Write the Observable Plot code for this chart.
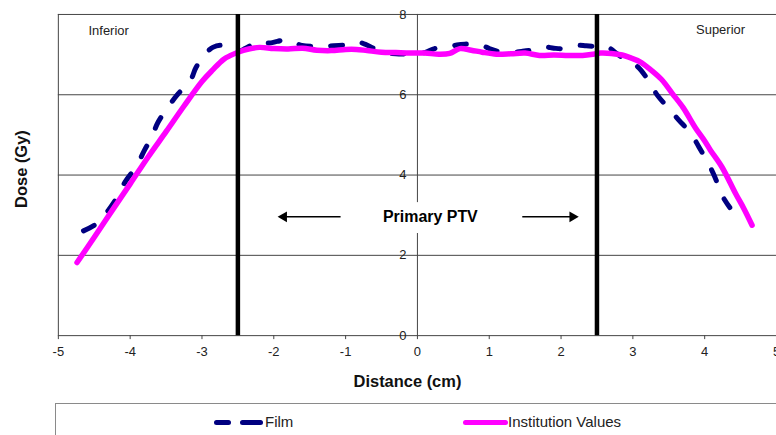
<!DOCTYPE html>
<html>
<head>
<meta charset="utf-8">
<script src="https://cdn.jsdelivr.net/npm/d3@7"></script>
<script src="https://cdn.jsdelivr.net/npm/@observablehq/plot@0.6"></script>
<style>
  body { margin: 0; background: #fff; overflow: hidden; font-family: "Liberation Sans", Arial, sans-serif; }
  #wrap { position: relative; width: 776px; height: 435px; overflow: hidden; background: #fff; }
  #chart { position: absolute; left: 0; top: 0; }
  #legend { position: absolute; left: 55px; top: 403px; width: 760px; height: 45px; border: 1px solid #8a8a8a; box-sizing: border-box; background: #fff; }
  .sw { position: absolute; height: 5px; border-radius: 3px; }
  .lt { position: absolute; font-size: 15px; line-height: 18px; color: #222; white-space: nowrap; }
</style>
</head>
<body>
<div id="wrap">
  <div id="chart"></div>
  <div id="legend">
    <span class="sw" style="left:158px;top:16px;width:17px;background:#000080"></span>
    <span class="sw" style="left:184px;top:16px;width:23px;background:#000080"></span>
    <span class="lt" style="left:209px;top:9px;">Film</span>
    <span class="sw" style="left:407px;top:16px;width:45px;background:#ff00ff"></span>
    <span class="lt" style="left:452px;top:9px;">Institution Values</span>
  </div>
</div>
<script>
// ---- data ----
const xTicks = [-5, -4, -3, -2, -1, 0, 1, 2, 3, 4, 5];
const yTicks = [0, 2, 4, 6, 8];
const gridLevels = [2, 4, 6, 8];
const ptvBounds = [-2.5, 2.5];

const filmX = [-4.65, -4.46, -4.30, -4.17, -4.07, -3.92, -3.80, -3.70, -3.61, -3.47, -3.33, -3.17, -3.08, -2.94, -2.85, -2.72, -2.60, -2.50, -2.40, -2.28, -2.17, -2.07, -1.95, -1.82, -1.61, -1.38, -1.17, -0.92, -0.82, -0.73, -0.50, -0.30, -0.10, 0.10, 0.24, 0.43, 0.55, 0.66, 0.87, 1.00, 1.10, 1.31, 1.45, 1.58, 1.77, 1.90, 2.02, 2.21, 2.35, 2.46, 2.58, 2.67, 2.78, 2.90, 3.06, 3.23, 3.34, 3.50, 3.64, 3.81, 3.92, 4.05, 4.14, 4.24, 4.35];
const filmY = [2.61, 2.80, 3.13, 3.48, 3.83, 4.20, 4.62, 4.95, 5.32, 5.70, 6.03, 6.32, 6.69, 7.04, 7.18, 7.23, 7.12, 7.08, 7.15, 7.27, 7.33, 7.29, 7.33, 7.37, 7.23, 7.21, 7.22, 7.26, 7.31, 7.26, 7.07, 7.02, 7.02, 7.05, 7.15, 7.19, 7.24, 7.26, 7.25, 7.15, 7.09, 7.06, 7.08, 7.11, 7.19, 7.16, 7.15, 7.23, 7.22, 7.21, 7.23, 7.17, 7.02, 6.86, 6.71, 6.32, 5.99, 5.66, 5.37, 5.03, 4.70, 4.29, 3.96, 3.50, 3.19];

const instX = [-4.74, -4.50, -4.25, -4.00, -3.75, -3.50, -3.25, -3.00, -2.85, -2.70, -2.60, -2.50, -2.35, -2.20, -2.00, -1.80, -1.60, -1.40, -1.20, -1.00, -0.85, -0.70, -0.50, -0.30, -0.10, 0.10, 0.30, 0.45, 0.59, 0.75, 0.90, 1.10, 1.30, 1.50, 1.70, 1.90, 2.10, 2.30, 2.45, 2.55, 2.70, 2.85, 2.95, 3.10, 3.23, 3.40, 3.55, 3.70, 3.87, 4.00, 4.08, 4.24, 4.43, 4.55, 4.66];
const instY = [1.82, 2.45, 3.12, 3.78, 4.45, 5.08, 5.72, 6.33, 6.62, 6.88, 6.98, 7.06, 7.14, 7.18, 7.15, 7.14, 7.16, 7.11, 7.10, 7.13, 7.13, 7.10, 7.06, 7.05, 7.04, 7.04, 7.01, 7.03, 7.15, 7.11, 7.06, 7.01, 7.02, 7.04, 6.98, 6.99, 6.98, 6.98, 7.01, 7.04, 7.03, 6.99, 6.93, 6.82, 6.65, 6.38, 6.03, 5.68, 5.18, 4.85, 4.62, 4.20, 3.54, 3.15, 2.75];

// annotations (data coordinates)
const regionLabels = [
  {x: -4.58, y: 7.6, text: "Inferior"},
  {x: 3.88, y: 7.62, text: "Superior"}
];
const ptvLabel = [{x: 0.18, y: 2.95, text: "Primary PTV"}];
const arrowsLeft = [{x1: -1.07, x2: -1.86, y: 2.96}];
const arrowsRight = [{x1: 1.46, x2: 2.16, y: 2.96}];

const film = filmX.map((x, i) => ({x, y: filmY[i]}));
const inst = instX.map((x, i) => ({x, y: instY[i]}));

const gridColor = "#444";

const chart = Plot.plot({
  width: 778,
  height: 400,
  marginLeft: 58,
  marginRight: 0,
  marginTop: 14,
  marginBottom: 64,
  x: {domain: [-5, 5]},
  y: {domain: [0, 8], axis: null},
  style: {fontFamily: "'Liberation Sans', Arial, sans-serif", fontSize: "13px", color: "#222", background: "white", overflow: "visible"},
  marks: [
    Plot.ruleY(gridLevels, {stroke: gridColor, strokeWidth: 1}),
    Plot.ruleX([-5], {stroke: gridColor, strokeWidth: 1}),
    Plot.ruleY([0], {stroke: gridColor, strokeWidth: 1}),
    Plot.ruleX([0], {y1: 0, y2: 8, stroke: gridColor, strokeWidth: 1}),
    Plot.axisX({ticks: xTicks, tickSize: 4, tickPadding: 7, tickFormat: d => String(d), label: null, fontSize: 13, stroke: gridColor}),
    Plot.text(yTicks, {x: 0, y: d => d, text: d => String(d), dx: -11, textAnchor: "end", fontSize: 13, fill: "#222"}),
    Plot.line(film, {x: "x", y: "y", stroke: "#000080", strokeWidth: 5, strokeDasharray: "12,20", strokeLinecap: "round", curve: "catmull-rom"}),
    Plot.line(inst, {x: "x", y: "y", stroke: "#ff00ff", strokeWidth: 5.5, strokeLinecap: "round", strokeLinejoin: "round", curve: "catmull-rom"}),
    Plot.ruleX(ptvBounds, {y1: 0, y2: 8, stroke: "black", strokeWidth: 4.5}),
    Plot.text(ptvLabel, {x: "x", y: "y", text: "text", fontWeight: "bold", fontSize: 16, fill: "black", stroke: "white", strokeWidth: 22}),
    Plot.link(arrowsLeft, {x1: "x1", x2: "x2", y1: "y", y2: "y", stroke: "black", strokeWidth: 1.5}),
    Plot.link(arrowsRight, {x1: "x1", x2: "x2", y1: "y", y2: "y", stroke: "black", strokeWidth: 1.5}),
    Plot.dot(arrowsLeft, {x: "x2", y: "y", symbol: "triangle", rotate: -90, r: 4, fill: "black", stroke: "none"}),
    Plot.dot(arrowsRight, {x: "x2", y: "y", symbol: "triangle", rotate: 90, r: 4, fill: "black", stroke: "none"}),
    Plot.text(regionLabels, {x: "x", y: "y", text: "text", textAnchor: "start", fontSize: 13, fill: "#222"}),
    Plot.text(["Distance (cm)"], {frameAnchor: "bottom", lineAnchor: "middle", textAnchor: "middle", dx: -10, dy: 46, fontWeight: "bold", fontSize: 16.5, fill: "#111"}),
    Plot.text(["Dose (Gy)"], {frameAnchor: "left", lineAnchor: "middle", textAnchor: "middle", rotate: -90, dx: -37, dy: -6, fontWeight: "bold", fontSize: 16.5, fill: "#111"})
  ]
});
document.getElementById("chart").appendChild(chart);
</script>
</body>
</html>
